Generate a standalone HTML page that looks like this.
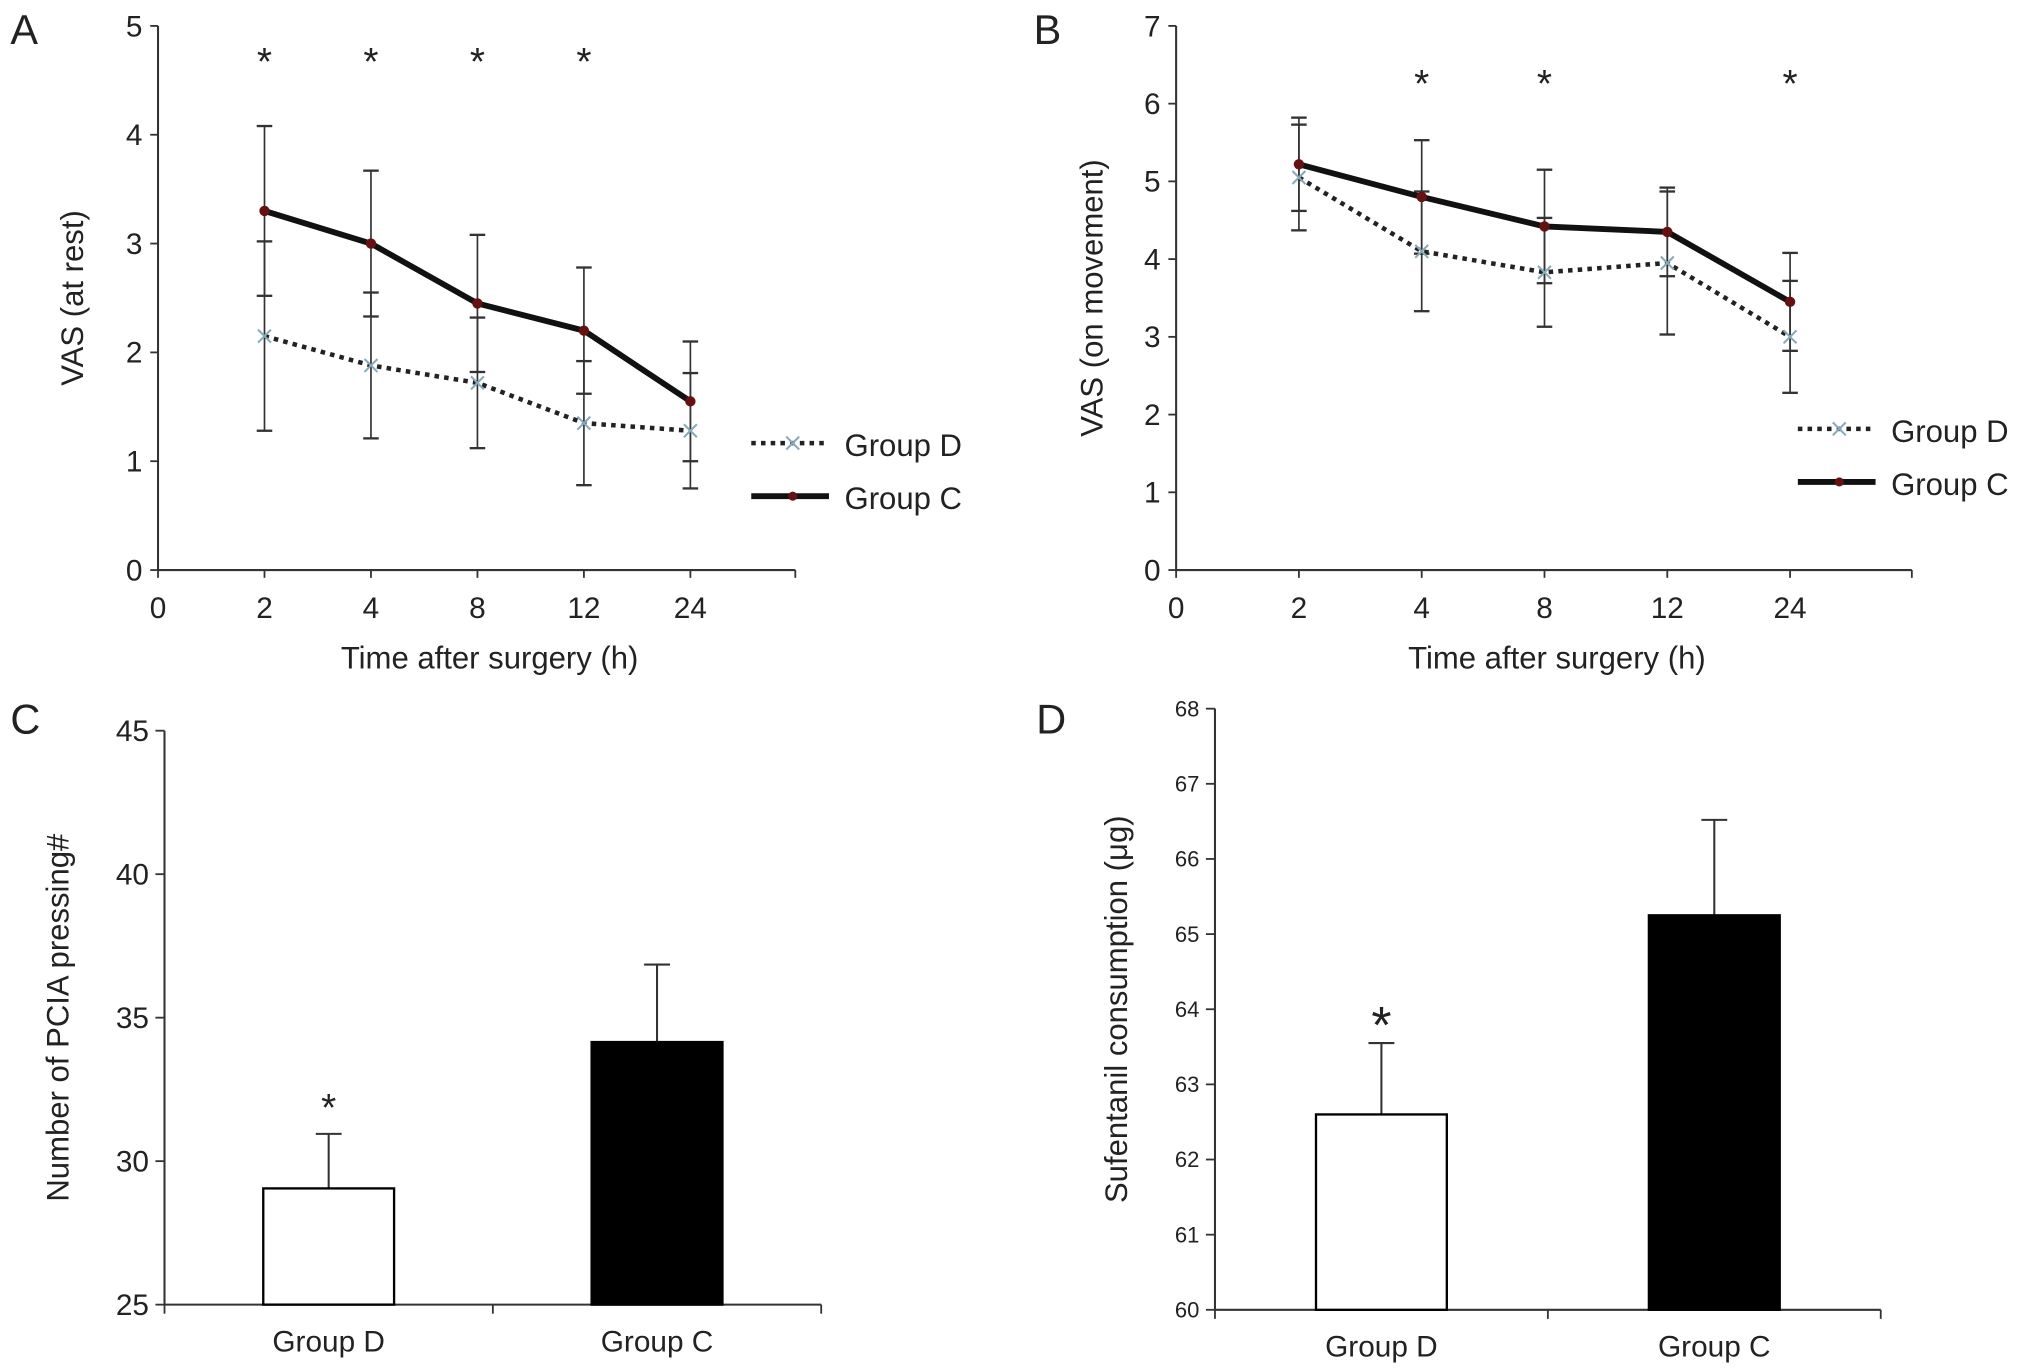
<!DOCTYPE html>
<html><head><meta charset="utf-8"><style>
html,body{margin:0;padding:0;background:#fff}
svg{display:block}
text{font-family:"Liberation Sans",sans-serif;fill:#222}
</style></head><body>
<svg id="fig" width="2031" height="1372" viewBox="0 0 1568 1059" preserveAspectRatio="none" xmlns="http://www.w3.org/2000/svg"></svg>
<script>
// Panel A data
const timeLabels = ["0","2","4","8","12","24"];
const aGroupC = [3.3, 3.0, 2.45, 2.2, 1.55];
const aGroupCsd = [0.78, 0.67, 0.63, 0.58, 0.55];
const aGroupD = [2.15, 1.88, 1.72, 1.35, 1.28];
const aGroupDsd = [0.87, 0.67, 0.6, 0.57, 0.53];
const aSig = [true, true, true, true, false];
const aTicks = [0,1,2,3,4,5];
// Panel B data
const bGroupC = [5.22, 4.8, 4.42, 4.35, 3.45];
const bGroupCsd = [0.6, 0.73, 0.73, 0.57, 0.63];
const bGroupD = [5.05, 4.1, 3.83, 3.95, 3.0];
const bGroupDsd = [0.68, 0.77, 0.7, 0.92, 0.72];
const bSig = [false, true, true, false, true];
const bTicks = [0,1,2,3,4,5,6,7];
// Panel C data
const barCategories = ["Group D","Group C"];
const cValues = [29.05, 34.15];
const cErr = [1.9, 2.7];
const cTicks = [25,30,35,40,45];
// Panel D data
const dValues = [62.6, 65.25];
const dErr = [0.95, 1.27];
const dTicks = [60,61,62,63,64,65,66,67,68];

const svg = document.getElementById('fig');
const NS = 'http://www.w3.org/2000/svg';
function mk(tag, attrs, parent){const e=document.createElementNS(NS,tag);for(const k in attrs)e.setAttribute(k,attrs[k]);(parent||svg).appendChild(e);return e;}
function txt(s, attrs, parent){const e=mk('text',attrs,parent);e.textContent=s;return e;}

function linePanel(cfg){
  const g=mk('g',{});
  
  
  const y=v=>cfg.y0-(v-cfg.ticks[0])/(cfg.ticks[cfg.ticks.length-1]-cfg.ticks[0])*(cfg.y0-cfg.yTop);
  const x=i=>cfg.x0+i*cfg.dx;
  // axes
  const ya=mk('line',{x1:cfg.x0,y1:cfg.yTop,x2:cfg.x0,y2:cfg.y0,stroke:'#333','stroke-width':1.6},g);
  
  const xa=mk('line',{x1:cfg.x0,y1:cfg.y0,x2:cfg.xEnd,y2:cfg.y0,stroke:'#333','stroke-width':1.6},g);
  
  mk('line',{x1:cfg.xEnd,y1:cfg.y0,x2:cfg.xEnd,y2:cfg.y0+6,stroke:'#333','stroke-width':1.4},g);
  cfg.ticks.forEach(t=>{
    mk('line',{x1:cfg.x0-6,y1:y(t),x2:cfg.x0,y2:y(t),stroke:'#333','stroke-width':1.4},g);
    const l=txt(String(t),{x:cfg.x0-12,y:y(t)+8,'text-anchor':'end','font-size':23},g);
    
  });
  timeLabels.forEach((t,i)=>{
    mk('line',{x1:x(i),y1:cfg.y0,x2:x(i),y2:cfg.y0+6,stroke:'#333','stroke-width':1.4},g);
    const l=txt(t,{x:x(i),y:cfg.y0+37,'text-anchor':'middle','font-size':23},g);
    
  });
  // error bars
  function errs(vals,sd){vals.forEach((v,i)=>{const xi=x(i+1);
    mk('line',{x1:xi,y1:y(v-sd[i]),x2:xi,y2:y(v+sd[i]),stroke:'#333','stroke-width':1.3},g);
    [v-sd[i],v+sd[i]].forEach(w=>mk('line',{x1:xi-6,y1:y(w),x2:xi+6,y2:y(w),stroke:'#333','stroke-width':1.8},g));});}
  errs(cfg.D,cfg.Dsd);errs(cfg.C,cfg.Csd);
  const pd=mk('polyline',{points:cfg.D.map((v,i)=>x(i+1)+','+y(v)).join(' '),fill:'none',stroke:'#222','stroke-width':3.5,'stroke-dasharray':'3.5 4'},g);
  
  cfg.D.forEach((v,i)=>{const xi=x(i+1),yi=y(v);mk('path',{d:`M${xi-5} ${yi-5}L${xi+5} ${yi+5}M${xi-5} ${yi+5}L${xi+5} ${yi-5}`,stroke:'#8ab',"stroke-width":1.6},g);});
  const pc=mk('polyline',{points:cfg.C.map((v,i)=>x(i+1)+','+y(v)).join(' '),fill:'none',stroke:'#111','stroke-width':4.5},g);
  
  cfg.C.forEach((v,i)=>{mk('circle',{cx:x(i+1),cy:y(v),r:4,fill:'#611'},g);});
  cfg.sig.forEach((s,i)=>{if(s){const a=txt('*',{x:x(i+1),y:cfg.starY,'text-anchor':'middle','font-size':30},g);}});
  // legend
  const L=cfg.leg;
  const lg=mk('g',{},g);
  mk('line',{x1:L.x,y1:L.y,x2:L.x+60,y2:L.y,stroke:'#222','stroke-width':3.5,'stroke-dasharray':'3.5 4'},lg);
  mk('path',{d:`M${L.x+27} ${L.y-5}L${L.x+37} ${L.y+5}M${L.x+27} ${L.y+5}L${L.x+37} ${L.y-5}`,stroke:'#8ab','stroke-width':1.6},lg);
  txt('Group D',{x:L.x+72,y:L.y+10,'font-size':24},lg);
  mk('line',{x1:L.x,y1:L.y+41,x2:L.x+60,y2:L.y+41,stroke:'#111','stroke-width':4.5},lg);
  mk('circle',{cx:L.x+32,cy:L.y+41,r:3.5,fill:'#611'},lg);
  txt('Group C',{x:L.x+72,y:L.y+51,'font-size':24},lg);
  const yt=txt(cfg.yTitle,{x:0,y:0,'text-anchor':'middle','font-size':24,transform:`translate(${cfg.yTitleX},${cfg.yTitleY}) rotate(-90)`},g);
  
  const xt=txt('Time after surgery (h)',{x:(cfg.x0+cfg.xEnd)/2+10,y:cfg.y0+76,'text-anchor':'middle','font-size':24},g);
  
  const pl=txt(cfg.letter,{x:cfg.letterX,y:34,'font-size':32},g);
  
}

linePanel({name:'panel-a-chart',letter:'A',letterX:8,x0:122,dx:82.2,xEnd:614,y0:440,yTop:20,ticks:aTicks,
  C:aGroupC,Csd:aGroupCsd,D:aGroupD,Dsd:aGroupDsd,sig:aSig,starY:58,leg:{x:580,y:342},
  yTitle:'VAS (at rest)',yTitleX:64,yTitleY:230});
linePanel({name:'panel-b-chart',letter:'B',letterX:798,x0:908,dx:94.8,xEnd:1476,y0:440,yTop:20,ticks:bTicks,
  C:bGroupC,Csd:bGroupCsd,D:bGroupD,Dsd:bGroupDsd,sig:bSig,starY:75,leg:{x:1388,y:331},
  yTitle:'VAS (on movement)',yTitleX:851,yTitleY:230});

function barPanel(cfg){
  const g=mk('g',{});
  
  
  const lo=cfg.ticks[0],hi=cfg.ticks[cfg.ticks.length-1];
  const y=v=>cfg.y0-(v-lo)/(hi-lo)*(cfg.y0-cfg.yTop);
  const w=(cfg.xEnd-cfg.x0)/barCategories.length;
  const ya=mk('line',{x1:cfg.x0,y1:cfg.yTop,x2:cfg.x0,y2:cfg.y0,stroke:'#333','stroke-width':1.6},g);
  
  const xa=mk('line',{x1:cfg.x0,y1:cfg.y0,x2:cfg.xEnd,y2:cfg.y0,stroke:'#333','stroke-width':1.6},g);
  
  cfg.ticks.forEach(t=>{
    mk('line',{x1:cfg.x0-7,y1:y(t),x2:cfg.x0,y2:y(t),stroke:'#333','stroke-width':1.4},g);
    const l=txt(String(t),{x:cfg.x0-12,y:y(t)+cfg.fs*0.35,'text-anchor':'end','font-size':cfg.fs},g);
    
  });
  for(let i=0;i<=barCategories.length;i++) mk('line',{x1:cfg.x0+i*w,y1:cfg.y0,x2:cfg.x0+i*w,y2:cfg.y0+7,stroke:'#333','stroke-width':1.4},g);
  cfg.vals.forEach((v,i)=>{
    const cx=cfg.x0+(i+0.5)*w, bw=101;
    mk('line',{x1:cx,y1:y(v),x2:cx,y2:y(v+cfg.err[i]),stroke:'#333','stroke-width':1.6},g);
    mk('line',{x1:cx-10,y1:y(v+cfg.err[i]),x2:cx+10,y2:y(v+cfg.err[i]),stroke:'#333','stroke-width':1.6},g);
    const r=mk('rect',{x:cx-bw/2,y:y(v),width:bw,height:cfg.y0-y(v),fill:i===0?'#fff':'#000',stroke:'#000','stroke-width':1.8},g);
    
    
    const l=txt(barCategories[i],{x:cx,y:cfg.y0+36,'text-anchor':'middle','font-size':23},g);
    
    if(i===0){const a=txt('*',{x:cx,y:y(v+cfg.err[i])-cfg.starOff,'text-anchor':'middle','font-size':cfg.starFs},g);}
  });
  const yt=txt(cfg.yTitle,{x:0,y:0,'text-anchor':'middle','font-size':24,transform:`translate(${cfg.yTitleX},${(cfg.y0+cfg.yTop)/2}) rotate(-90)`},g);
  
  const pl=txt(cfg.letter,{x:cfg.letterX,y:566,'font-size':32},g);
  
}
barPanel({name:'panel-c-chart',letter:'C',letterX:8,x0:127,xEnd:634,y0:1007,yTop:564,ticks:cTicks,vals:cValues,err:cErr,fs:23,
  yTitle:'Number of PCIA pressing#',yTitleX:53,starOff:10,starFs:30});
barPanel({name:'panel-d-chart',letter:'D',letterX:800,x0:938,xEnd:1452,y0:1011,yTop:547,ticks:dTicks,vals:dValues,err:dErr,fs:17,
  yTitle:'Sufentanil consumption (μg)',yTitleX:870,starOff:0,starFs:40});
</script>
</body></html>
